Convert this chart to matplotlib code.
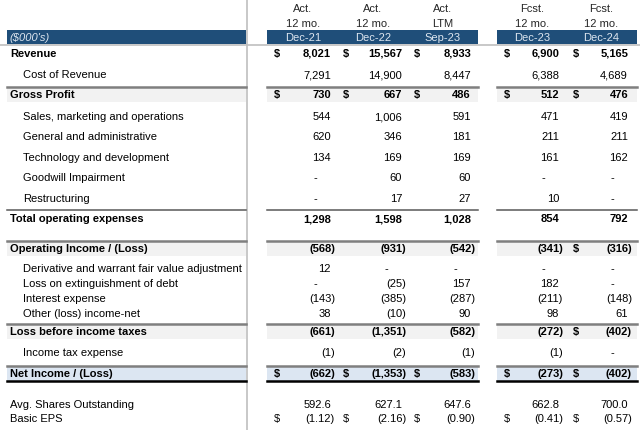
import matplotlib
matplotlib.use('Agg')
import matplotlib.pyplot as plt

plt.rcParams['font.family'] = ['Liberation Sans', 'DejaVu Sans']

# ── Data ──────────────────────────────────────────────────────────────────────
HDR1 = ['Act.', 'Act.', 'Act.', 'Fcst.', 'Fcst.']
HDR2 = ['12 mo.', '12 mo.', 'LTM', '12 mo.', '12 mo.']
HDR3 = ['Dec-21', 'Dec-22', 'Sep-23', 'Dec-23', 'Dec-24']
UNITS = "($000's)"

revenue       = [8021, 15567, 8933, 6900, 5165]
cost_revenue  = [7291, 14900, 8447, 6388, 4689]
gross_profit  = [730, 667, 486, 512, 476]
sales_mkt     = [544, 1006, 591, 471, 419]
gen_admin     = [620, 346, 181, 211, 211]
tech_dev      = [134, 169, 169, 161, 162]
goodwill      = [None, 60, 60, None, None]
restructuring = [None, 17, 27, 10, None]
total_opex    = [1298, 1598, 1028, 854, 792]
op_income     = [-568, -931, -542, -341, -316]
deriv_adj     = [12, None, None, None, None]
loss_extinct  = [None, -25, 157, 182, None]
interest_exp  = [-143, -385, -287, -211, -148]
other_income  = [38, -10, 90, 98, 61]
loss_pretax   = [-661, -1351, -582, -272, -402]
income_tax    = [-1, -2, -1, -1, None]
net_income    = [-662, -1353, -583, -273, -402]
avg_shares    = [592.6, 627.1, 647.6, 662.8, 700.0]
basic_eps     = [-1.12, -2.16, -0.90, -0.41, -0.57]

ALL_D = [True] * 5
LAST_D = [False, False, False, False, True]
NO_D = [False] * 5

# (label, values, y, bold, indent, dollar flags, decimals, style)
ROWS = [
    ('Revenue', revenue, 53, True, False, ALL_D, 0, None),
    ('Cost of Revenue', cost_revenue, 74, False, True, NO_D, 0, None),
    ('Gross Profit', gross_profit, 94, True, False, ALL_D, 0, 'gray'),
    ('Sales, marketing and operations', sales_mkt, 116, False, True, NO_D, 0, None),
    ('General and administrative', gen_admin, 136, False, True, NO_D, 0, None),
    ('Technology and development', tech_dev, 157, False, True, NO_D, 0, None),
    ('Goodwill Impairment', goodwill, 177, False, True, NO_D, 0, None),
    ('Restructuring', restructuring, 198, False, True, NO_D, 0, None),
    ('Total operating expenses', total_opex, 218, True, False, NO_D, 0, 'thin'),
    ('Operating Income / (Loss)', op_income, 248, True, False, LAST_D, 0, 'gray'),
    ('Derivative and warrant fair value adjustment', deriv_adj, 268, False, True, NO_D, 0, None),
    ('Loss on extinguishment of debt', loss_extinct, 283, False, True, NO_D, 0, None),
    ('Interest expense', interest_exp, 298, False, True, NO_D, 0, None),
    ('Other (loss) income-net', other_income, 313, False, True, NO_D, 0, None),
    ('Loss before income taxes', loss_pretax, 331, True, False, LAST_D, 0, 'gray'),
    ('Income tax expense', income_tax, 352, False, True, NO_D, 0, None),
    ('Net Income / (Loss)', net_income, 373, True, False, ALL_D, 0, 'blue'),
    ('Avg. Shares Outstanding', avg_shares, 404, False, False, NO_D, 1, None),
    ('Basic EPS', basic_eps, 418, False, False, ALL_D, 2, None),
]

# ── Layout ────────────────────────────────────────────────────────────────────
COL_R = [331, 402, 471, 559, 628]
COL_D = [277, 346, 417, 507, 576]
COL_C = [303, 373, 443, 532, 601]
SEGS = [(7, 246), (267, 478), (497, 637)]
BAND = '#1F4E79'
FS = 8.0
DY = 1.0  # text nudge down


def fmt(v, dec):
    if v is None:
        return '-'
    s = f'{abs(v):,.{dec}f}'
    return f'({s})' if v < 0 else s


fig = plt.figure(figsize=(6.4, 4.3), dpi=100)
ax = fig.add_axes([0, 0, 1, 1])
ax.set_xlim(0, 640)
ax.set_ylim(430, 0)
ax.axis('off')

# vertical divider
ax.plot([246.5, 246.5], [0, 430], color='#BFBFBF', lw=1.2)

# header band
for x0, x1 in SEGS:
    ax.fill_between([x0, x1], 30, 43.5, color=BAND, lw=0)
ax.plot([0, 640], [44.5, 44.5], color='#BFBFBF', lw=1.2)
ax.text(9, 37 + DY, UNITS, fontsize=FS, style='italic', color='#DDE6F0', va='center')
for i in range(5):
    ax.text(COL_C[i], 8 + DY, HDR1[i], fontsize=FS, color='#262626', ha='center', va='center')
    ax.text(COL_C[i], 23 + DY, HDR2[i], fontsize=FS, color='#262626', ha='center', va='center')
    ax.text(COL_C[i], 37 + DY, HDR3[i], fontsize=FS, color='#DDE6F0', ha='center', va='center')

for label, vals, y, bold, indent, dol, dec, style in ROWS:
    fw = 'bold' if bold else 'normal'
    if style in ('gray', 'blue'):
        bg = '#F2F2F2' if style == 'gray' else '#DCE6F2'
        top = y - 7.5
        for x0, x1 in SEGS:
            ax.fill_between([x0, x1], top, y + 7.5, color=bg, lw=0)
            ax.plot([x0, x1], [top, top], color='#7F7F7F', lw=1.8)
            if style == 'blue':
                ax.plot([x0, x1], [y + 8, y + 8], color='#000000', lw=1.8)
    elif style == 'thin':
        for x0, x1 in SEGS:
            ax.plot([x0, x1], [y - 8, y - 8], color='#595959', lw=1.1)

    ty = y + DY
    ax.text(23 if indent else 10, ty, label, fontsize=FS, fontweight=fw,
            color='#000000', va='center')
    for i, v in enumerate(vals):
        s = fmt(v, dec)
        if v is None:
            xr = COL_R[i] - 14
        elif v < 0:
            xr = COL_R[i] + 4
        else:
            xr = COL_R[i]
        ax.text(xr, ty, s, fontsize=FS, fontweight=fw, color='#000000',
                ha='right', va='center')
        if dol[i]:
            ax.text(COL_D[i], ty, '$', fontsize=FS, fontweight=fw, color='#000000',
                    ha='center', va='center')

fig.savefig('out.png', dpi=100)
